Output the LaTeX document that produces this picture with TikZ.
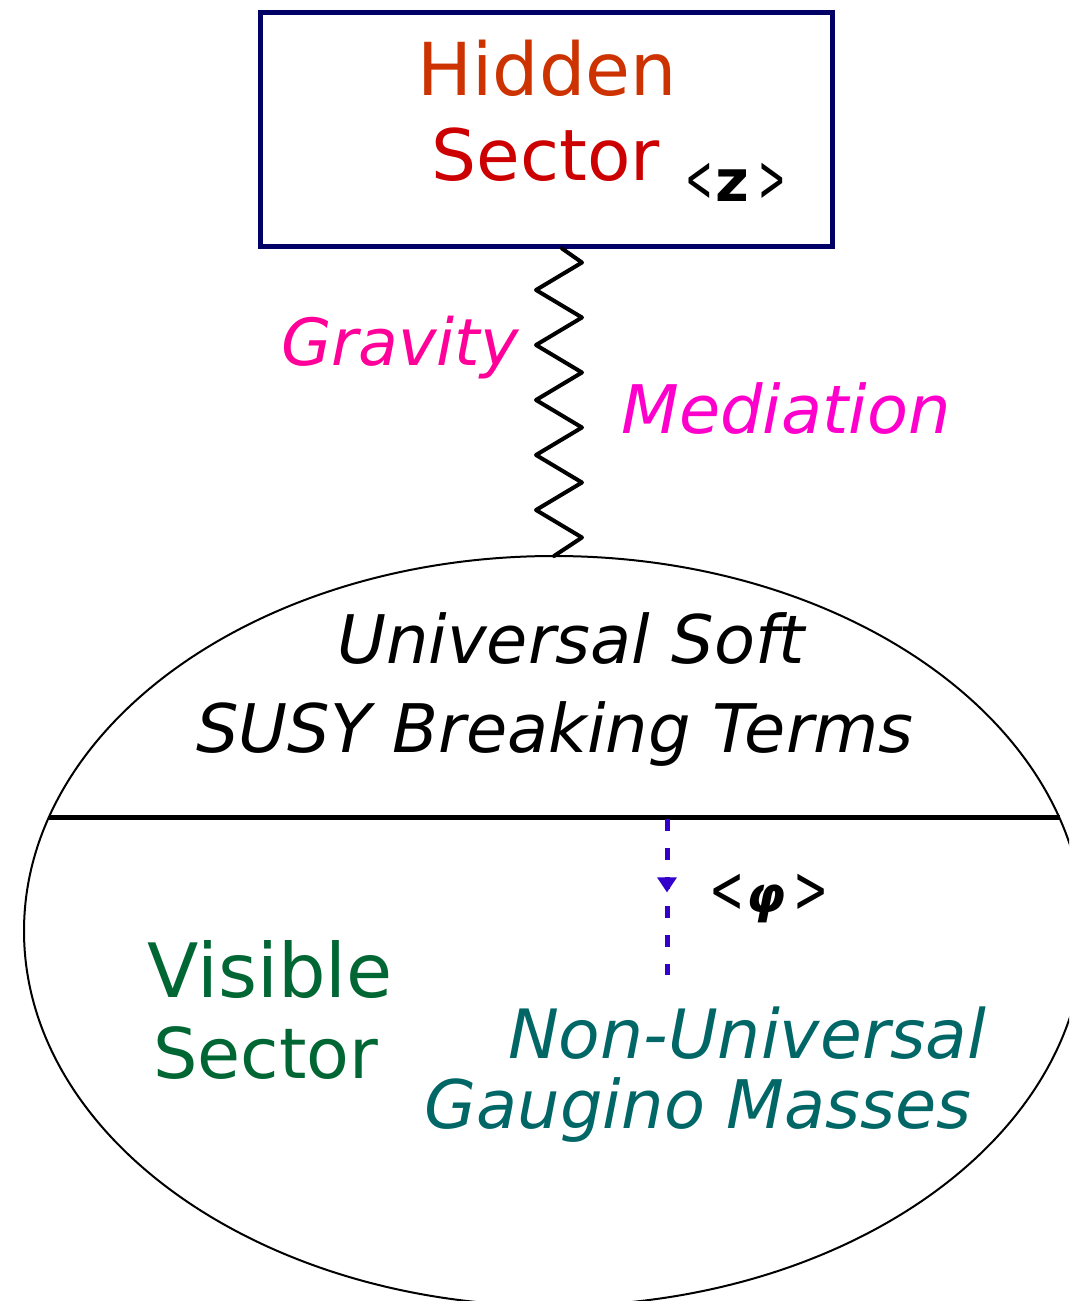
\documentclass[tikz,border=0pt]{standalone}
\usepackage{fontspec}
\setmainfont{DejaVu Sans}
\usetikzlibrary{shapes.geometric,decorations.markings,arrows.meta}

\definecolor{boxnavy}{HTML}{000066}
\definecolor{hiddenorange}{HTML}{CC3300}
\definecolor{sectorred}{HTML}{CC0000}
\definecolor{gravpink}{HTML}{FF0099}
\definecolor{medmagenta}{HTML}{FF00CC}
\definecolor{visgreen}{HTML}{006633}
\definecolor{gaugteal}{HTML}{006666}
\definecolor{vevblue}{HTML}{3300CC}

\newcommand\setfs[1]{\fontsize{#1}{#1}\selectfont}
\newcommand\angl[2]{\scalebox{#1}[1.1]{\setfs{60}#2}}

\begin{document}
\begin{tikzpicture}[x=1pt,y=-1pt,
  lbl/.style={inner sep=0pt, outer sep=0pt, anchor=base},
  sectorbox/.style={draw=boxnavy, line width=5pt, minimum width=572pt, minimum height=234pt, inner sep=0pt},
  bubble/.style={ellipse, draw=black, line width=2pt, minimum width=1060pt, minimum height=750pt, inner sep=0pt, outer sep=0pt},
  divider/.style={line width=5pt},
  spring/.style={line width=4pt, line join=round, line cap=round},
  vevarrow/.style={vevblue, line width=5pt, dash pattern=on 12pt off 17pt,
    postaction={decorate, decoration={markings,
      mark=at position 0.47 with {\arrow[vevblue, line width=0pt]{Triangle[length=15pt,width=20pt]}}}}}
]
\useasboundingbox (0,0) rectangle (1069,1301);
\clip (0,0) rectangle (1069,1301);

% hidden sector box
\node[sectorbox] (box) at (546,129) {};
\node[lbl, text=hiddenorange] (hidden) at (547,95) {\setfs{73}Hidden};
\node[lbl, text=sectorred] (hsector) at (546,180) {\setfs{71}Sector};
\node[lbl] (zvev) at (736,201) {\angl{0.55}{<}\,\setfs{58}\textbf{z}\,\angl{0.55}{>}};

% visible sector bubble
\node[bubble] (ell) at (554,931) {};
\coordinate (divL) at (49,817);
\coordinate (divR) at (1060,817);
\draw[divider] (divL) -- (divR);

% gravity mediated link
\coordinate (zzTop) at ([xshift=16pt]box.south);
\draw[spring] (zzTop) -- ++(20,14)
  \foreach \i in {1,...,5}{ -- ++(-46,27.5) -- ++(46,27.5) } -- (ell.north);
\node[lbl, text=gravpink] (grav) at (400,365) {\itshape\setfs{65}Gravity};
\node[lbl, text=medmagenta] (med) at (786,433) {\itshape\setfs{67}Mediation};

% universal soft terms
\node[lbl] (univ) at (571,663) {\itshape\setfs{67}Universal Soft};
\node[lbl] (susy) at (555,752) {\itshape\setfs{67}SUSY Breaking Terms};

% visible sector labels
\node[lbl, text=visgreen] (visible) at (270,997) {\setfs{75}Visible};
\node[lbl, text=visgreen] (vsector) at (266,1078) {\setfs{70}Sector};
\node[lbl, text=gaugteal] (nonuniv) at (747,1058) {\itshape\setfs{68}Non-Universal};
\node[lbl, text=gaugteal] (gaugino) at (698,1128) {\itshape\setfs{67}Gaugino Masses};

% phi vev arrow
\coordinate (phiTop) at (667,819);
\coordinate (phiEnd) at (667,975);
\draw[vevarrow] (phiTop) -- (phiEnd);
\node[lbl] (phivev) at (769,912) {\angl{0.7}{<}\,\setfs{50}\textbf{\textit{φ}}\,\angl{0.7}{>}};
\end{tikzpicture}
\end{document}
